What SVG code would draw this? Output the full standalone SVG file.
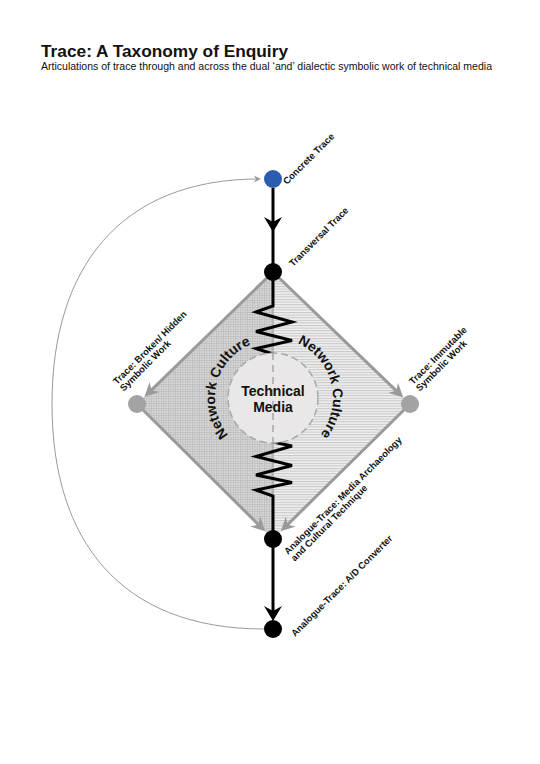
<svg xmlns="http://www.w3.org/2000/svg" width="540" height="764" viewBox="0 0 540 764">
<style>
.title{font-family:"Liberation Sans",Arial,sans-serif;font-weight:bold;font-size:17px;fill:#111}
.sub{font-family:"Liberation Sans",Arial,sans-serif;font-size:10px;fill:#111}
.lbl{font-family:"Liberation Sans",Arial,sans-serif;font-weight:bold;font-size:9.4px;fill:#111}
.nc{font-family:"Liberation Sans",Arial,sans-serif;font-weight:bold;font-size:14px;fill:#111}
.tm{font-family:"Liberation Sans",Arial,sans-serif;font-weight:bold;font-size:14px;fill:#111}
.blk{stroke:#000;stroke-width:3;fill:none;stroke-linejoin:miter}
.gry{stroke:#9a9a9a;stroke-width:3;fill:none}
.loop{stroke:#9a9a9a;stroke-width:1;fill:none}
.gnode{fill:#a3a3a3}
.bnode{fill:#000}
</style>
<defs>
<pattern id="grid" width="2.4" height="2.4" patternUnits="userSpaceOnUse"><rect width="2.4" height="2.4" fill="#dcdcdc"/><path d="M0,0.5H2.4M0.5,0V2.4" stroke="#b3b3b3" stroke-width="0.6"/></pattern>
<pattern id="hl" width="4" height="2.6" patternUnits="userSpaceOnUse"><rect width="4" height="2.6" fill="#f0f0f0"/><path d="M0,0.6H4" stroke="#b8b8b8" stroke-width="0.8"/></pattern>
<marker id="ba" viewBox="-16 -10 18 20" refX="-6" refY="0" markerWidth="18" markerHeight="20" markerUnits="userSpaceOnUse" orient="auto"><path d="M0,0 L-15,-9 L-10,0 L-15,9 Z" fill="#000"/></marker>
<marker id="ga" viewBox="-16 -8 18 16" refX="-7" refY="0" markerWidth="18" markerHeight="16" markerUnits="userSpaceOnUse" orient="auto"><path d="M0,0 L-14,-7 L-9.5,0 L-14,7 Z" fill="#9a9a9a"/></marker>
<marker id="sa" viewBox="-8 -4 9 8" refX="-2" refY="0" markerWidth="9" markerHeight="8" markerUnits="userSpaceOnUse" orient="auto"><path d="M0,0 L-7,-3.5 L-5,0 L-7,3.5 Z" fill="#9a9a9a"/></marker>
<path id="arcL" d="M 228.6,435.3 A 58 58 0 0 1 251.3,344.2"/>
<path id="arcR" d="M 297.4,343.2 A 60 60 0 0 1 320.3,434.9"/>
</defs>
<rect width="540" height="764" fill="#fff"/>
<g id="header">
<text class="title" x="41" y="57" textLength="247" lengthAdjust="spacingAndGlyphs">Trace: A Taxonomy of Enquiry</text>
<text class="sub" x="41" y="69.5" textLength="451" lengthAdjust="spacingAndGlyphs">Articulations of trace through and across the dual ‘and’ dialectic symbolic work of technical media</text>
</g>
<g id="field">
<path d="M273,272 L137,404 L273,539 Z" fill="url(#grid)"/>
<path d="M273,272 L410,404 L273,539 Z" fill="url(#hl)"/>
<line x1="273" y1="272" x2="273" y2="539" stroke="#a8a8a8" stroke-width="1.5"/>
</g>
<g id="connectors">
<path class="gry" d="M273,272 L149.5,391.9" marker-end="url(#ga)"/>
<path class="gry" d="M273,272 L398.2,392.6" marker-end="url(#ga)"/>
<path class="gry" d="M137,404 L260.2,526.4" marker-end="url(#ga)"/>
<path class="gry" d="M410,404 L285.8,526.4" marker-end="url(#ga)"/>
<path class="blk" d="M273,188 L273,226 L273,272" marker-mid="url(#ba)"/>
<path class="blk" d="M273,272 L273,306 L256,312 L292,322 L256,331.5 L292,340.5 L256,348.5 L273,354"/>
<path class="blk" d="M273,442 L292,446 L256,456.5 L292,465.5 L256,475 L292,482.5 L256,490 L273,496 L273,539"/>
<path class="blk" d="M273,539 L273,615" marker-end="url(#ba)"/>
<path class="loop" d="M264,629 C120,629 52,540 52,404 C52,268 120,179 259,179" marker-end="url(#sa)"/>
</g>
<g id="technical-media">
<circle cx="273" cy="398" r="45" fill="#e9e7e7" stroke="#a8a8a8" stroke-width="1.5" stroke-dasharray="7 4"/>
<line x1="273" y1="353" x2="273" y2="443" stroke="#a8a8a8" stroke-width="1.5" stroke-dasharray="7 5"/>
<text class="tm" x="273" y="396" text-anchor="middle">Technical</text>
<text class="tm" x="273" y="412" text-anchor="middle">Media</text>
</g>
<g id="network-culture">
<text class="nc"><textPath href="#arcL" startOffset="50%" text-anchor="middle">Network Culture</textPath></text>
<text class="nc"><textPath href="#arcR" startOffset="50%" text-anchor="middle">Network Culture</textPath></text>
</g>
<g id="concrete-trace">
<circle cx="273" cy="179" r="9" fill="#2b5cad"/>
<text class="lbl" transform="translate(287,185) rotate(-45)">Concrete Trace</text>
</g>
<g id="transversal-trace">
<circle class="bnode" cx="273" cy="272" r="9"/>
<text class="lbl" transform="translate(293,267) rotate(-45)">Transversal Trace</text>
</g>
<g id="broken-trace">
<circle class="gnode" cx="137" cy="404" r="9"/>
<text class="lbl" transform="translate(117,385) rotate(-45)"><tspan x="0" y="0">Trace: Broken/ Hidden</tspan><tspan x="0" y="9.6">Symbolic Work</tspan></text>
</g>
<g id="immutable-trace">
<circle class="gnode" cx="410" cy="404" r="9"/>
<text class="lbl" transform="translate(413,385) rotate(-45)"><tspan x="0" y="0">Trace: Immutable</tspan><tspan x="0" y="9.6">Symbolic Work</tspan></text>
</g>
<g id="analogue-media-archaeology">
<circle class="bnode" cx="273" cy="539" r="9"/>
<text class="lbl" transform="translate(288,555) rotate(-45)"><tspan x="0" y="0">Analogue-Trace: Media Archaeology</tspan><tspan x="0" y="9.6">and Cultural Technique</tspan></text>
</g>
<g id="analogue-ad">
<circle class="bnode" cx="273" cy="629" r="9"/>
<text class="lbl" transform="translate(295,637) rotate(-45)">Analogue-Trace: A/D Converter</text>
</g>
</svg>
